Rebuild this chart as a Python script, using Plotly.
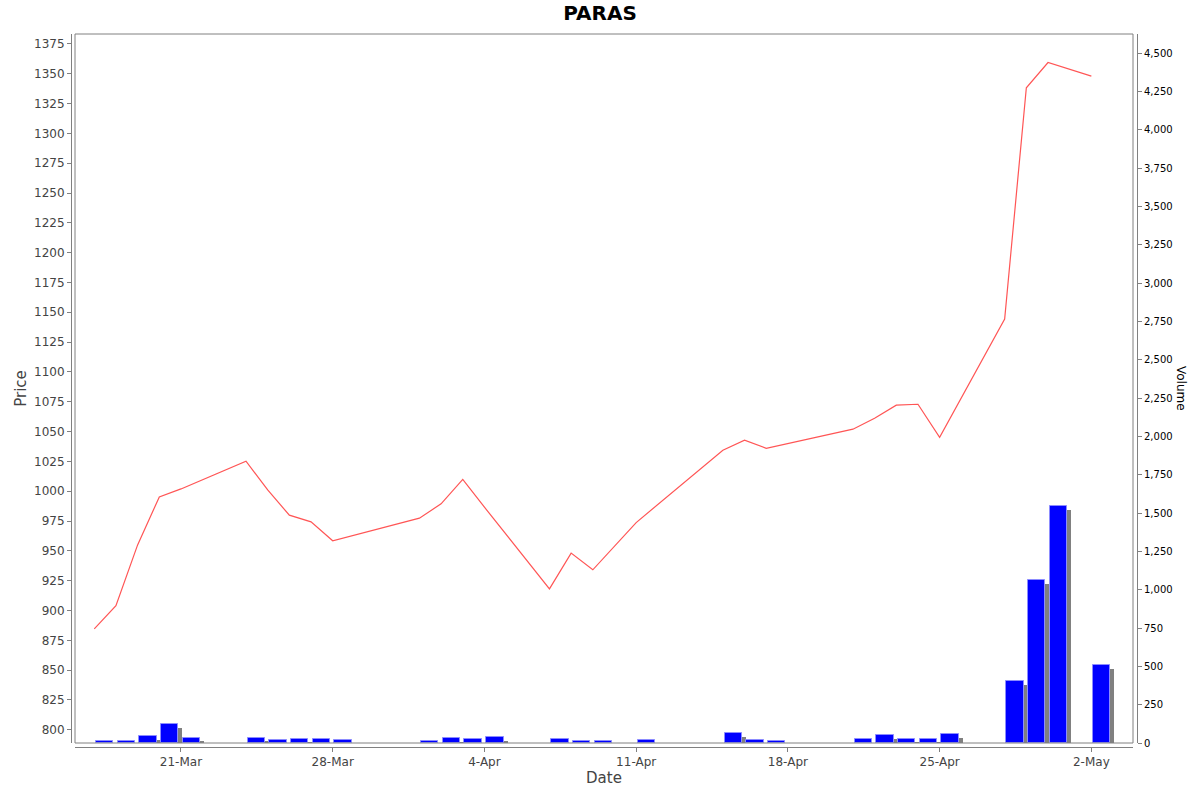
import plotly.graph_objects as go
import pandas as pd

# Daily data (NSE trading days, 2025)
dates = ['2025-03-17', '2025-03-18', '2025-03-19', '2025-03-20', '2025-03-21',
         '2025-03-24', '2025-03-25', '2025-03-26', '2025-03-27', '2025-03-28',
         '2025-04-01', '2025-04-02', '2025-04-03', '2025-04-04',
         '2025-04-07', '2025-04-08', '2025-04-09', '2025-04-11',
         '2025-04-15', '2025-04-16', '2025-04-17',
         '2025-04-21', '2025-04-22', '2025-04-23', '2025-04-24', '2025-04-25',
         '2025-04-28', '2025-04-29', '2025-04-30', '2025-05-02']
prices = [884.6, 904.1, 955.0, 995.2, 1001.9,
          1025.1, 1001.1, 979.9, 974.3, 958.4,
          977.4, 989.4, 1009.9, 986.6,
          918.1, 948.1, 934.1, 973.7,
          1034.4, 1042.7, 1036.0,
          1052.0, 1061.2, 1072.1, 1072.9, 1045.2,
          1144.4, 1338.2, 1359.4, 1348.0]
volumes = [13, 13, 44, 124, 33,
           33, 22, 28, 26, 22,
           13, 30, 24, 37,
           26, 15, 11, 17,
           68, 22, 15,
           26, 52, 28, 28, 61,
           405, 1061, 1548, 510]

price_range = [788.9, 1383.3]
volume_range = [0, 4626]

day = pd.Timedelta(days=1)
d = pd.to_datetime(dates)

# bars sit inside each day, shadow drawn a few pixels right and down
bar_x = d + 0.48 * day
shadow_x = bar_x + 0.185 * day
shadow_drop = 26
shadow_y = [max(v - shadow_drop, 0) for v in volumes]

grey = '#808080'
font = 'DejaVu Sans'

fig = go.Figure()

fig.add_trace(go.Bar(
    x=shadow_x, y=shadow_y, yaxis='y2',
    width=0.8 * 86400000,
    marker=dict(color=grey, line=dict(width=0)),
    hoverinfo='skip', showlegend=False
))
fig.add_trace(go.Bar(
    x=bar_x, y=volumes, yaxis='y2',
    width=0.8 * 86400000,
    marker=dict(color='#0000ff', line=dict(color='#8c8cff', width=1)),
    name='Volume', showlegend=False
))
fig.add_trace(go.Scatter(
    x=d, y=prices, yaxis='y',
    mode='lines',
    line=dict(color='rgb(255,85,85)', width=1.2),
    name='Price', showlegend=False
))

fig.update_layout(
    width=1200, height=792,
    margin=dict(l=71, r=63, t=34, b=45, autoexpand=False),
    paper_bgcolor='white', plot_bgcolor='white',
    barmode='overlay', bargap=0,
    font=dict(family=font, color='#444444'),
    title=dict(text='<b>PARAS</b>', x=0.5, xanchor='center',
               y=1 - 13 / 792, yanchor='middle',
               font=dict(family=font, size=20, color='black')),
    xaxis=dict(
        type='date',
        domain=[4 / 1066, 1 - 4 / 1066],
        anchor='free', position=0,
        range=['2025-03-16 02:40', '2025-05-03 22:06'],
        tick0='2025-03-21', dtick=7 * 86400000,
        tickformat='%-d-%b',
        ticks='outside', ticklen=4, tickcolor=grey,
        showline=True, linecolor=grey, linewidth=1,
        showgrid=False, zeroline=False, automargin=False,
        tickfont=dict(size=12, color='#444444'),
        title=dict(text='Date', standoff=3,
                   font=dict(size=15, color='#444444')),
    ),
    yaxis=dict(
        domain=[4 / 713, 1],
        anchor='free', position=0,
        range=price_range,
        tick0=800, dtick=25,
        ticks='outside', ticklen=4, tickcolor=grey,
        showline=True, linecolor=grey, linewidth=1,
        showgrid=False, zeroline=False, automargin=False,
        tickfont=dict(size=12, color='#444444'),
        title=dict(text='Price', standoff=2,
                   font=dict(size=15, color='#444444')),
    ),
    yaxis2=dict(
        overlaying='y', side='right',
        anchor='free', position=1,
        range=volume_range,
        tick0=0, dtick=250, tickformat=',d',
        ticks='outside', ticklen=4, tickcolor=grey,
        showline=True, linecolor=grey, linewidth=1,
        showgrid=False, zeroline=False, automargin=False,
        tickfont=dict(size=10, color='black'),
    ),
    annotations=[dict(
        text='Volume', textangle=90,
        xref='paper', yref='paper', x=1.0413, y=0.5035,
        xanchor='center', yanchor='middle', showarrow=False,
        font=dict(family=font, size=12, color='black'),
    )],
    shapes=[dict(
        type='rect', xref='x domain', yref='y domain',
        x0=0, x1=1, y0=0, y1=1,
        line=dict(color=grey, width=1), layer='above',
    )],
)

# drop the browser's default page margin so the figure starts at the corner
fig.write_html('out.html', config={'displayModeBar': False},
               post_script="document.body.style.margin='0';")
